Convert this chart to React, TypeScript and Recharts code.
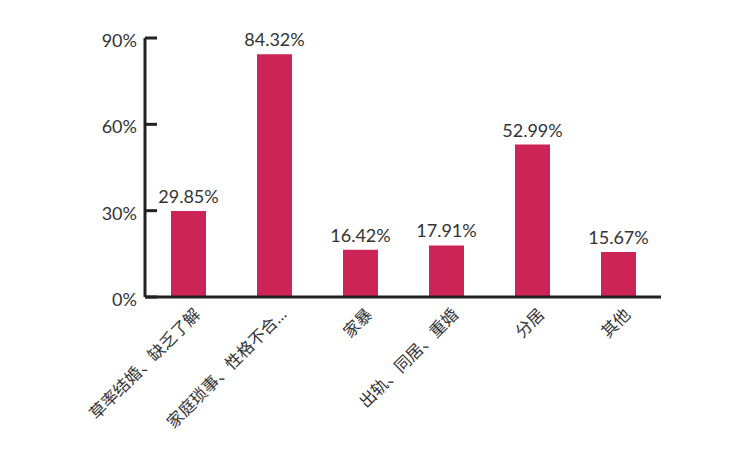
import { Bar, BarChart, XAxis, YAxis, LabelList } from 'recharts';

const categories = ['草率结婚、缺乏了解', '家庭琐事、性格不合…', '家暴', '出轨、同居、重婚', '分居', '其他'];
const shares = [29.85, 84.32, 16.42, 17.91, 52.99, 15.67];
const yTicks = [0, 30, 60, 90];

const FONT = "Lato, 'Noto Sans CJK SC', sans-serif";

const YTick = (props: any) => {
    const { x, y, payload } = props;
    return (
        <g>
            <line x1={x + 8} x2={x + 20} y1={y} y2={y} stroke="#222" strokeWidth={3} />
            <text x={x} y={y} dy={9} textAnchor="end" fill="#333" fontSize={18} fontFamily={FONT}>
                {payload.value}%
            </text>
        </g>
    );
};

const XTick = (props: any) => {
    const { x, y, payload } = props;
    return (
        <text
            x={x + 5}
            y={y + 2}
            transform={`rotate(-45, ${x + 5}, ${y + 2})`}
            textAnchor="end"
            dy={12}
            fill="#333"
            fontSize={16.5}
            fontFamily={FONT}
        >
            {payload.value}
        </text>
    );
};

const App = () => {
    const data = categories.map((name, i) => ({ name, value: shares[i] }));

    return (
        <div style={{ position: 'absolute', left: 0, top: 0, width: 754, height: 462, background: '#fff' }}>
            <BarChart width={754} height={462} data={data} margin={{ top: 38, right: 93, left: 0, bottom: 0 }} barSize={35}>
                <XAxis
                    dataKey="name"
                    interval={0}
                    height={165}
                    axisLine={{ stroke: '#222', strokeWidth: 3 }}
                    tickLine={false}
                    tick={<XTick />}
                />
                <YAxis
                    width={145}
                    domain={[0, 90]}
                    ticks={yTicks}
                    tickSize={0}
                    tickMargin={8}
                    axisLine={{ stroke: '#222', strokeWidth: 3 }}
                    tickLine={false}
                    tick={<YTick />}
                />
                <Bar dataKey="value" fill="#CC2457" isAnimationActive={false}>
                    <LabelList
                        dataKey="value"
                        position="top"
                        offset={8}
                        formatter={(v: any) => `${v}%`}
                        fill="#333"
                        fontSize={18}
                        fontFamily={FONT}
                    />
                </Bar>
            </BarChart>
        </div>
    );
};

export default App;
